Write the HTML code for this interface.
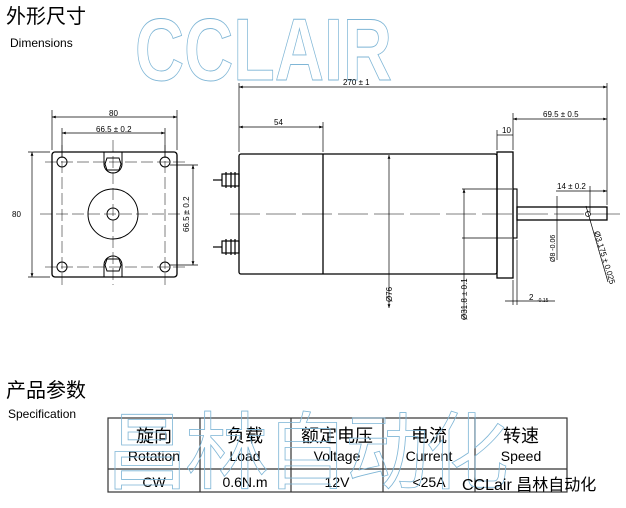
<!DOCTYPE html>
<html><head><meta charset="utf-8"><style>
body{margin:0;background:#fff;width:626px;height:508px;overflow:hidden;position:relative;font-family:"Liberation Sans","Noto Sans CJK SC",sans-serif}
</style></head><body>
<svg width="626" height="508" style="position:absolute;left:0;top:0" font-family="Liberation Sans, Noto Sans CJK SC, sans-serif">
<defs>
<marker id="a" viewBox="0 0 8 6" refX="8" refY="3" markerWidth="6" markerHeight="4" orient="auto-start-reverse"><path d="M0,0L8,3L0,6z" fill="#000"/></marker>
</defs>
<text x="135" y="80" font-size="88" font-weight="bold" fill="none" stroke="#7fb6d6" stroke-width="0.9" textLength="257" lengthAdjust="spacingAndGlyphs">CCLAIR</text>

<g stroke="#000" fill="none" stroke-width="0.7">
<rect x="52" y="152" width="125" height="125" rx="3" stroke-width="1.3"/>
<g stroke-dasharray="12,4" stroke-width="0.5">
<line x1="40" y1="214" x2="190" y2="214"/><line x1="113" y1="140" x2="113" y2="285"/>
<line x1="45" y1="162" x2="185" y2="162"/><line x1="45" y1="267" x2="185" y2="267"/>
<line x1="62" y1="145" x2="62" y2="285"/><line x1="165" y1="145" x2="165" y2="285"/>
</g>
<g stroke-width="1"><circle cx="62" cy="162" r="5"/><circle cx="165" cy="162" r="5"/><circle cx="62" cy="267" r="5"/><circle cx="165" cy="267" r="5"/>
<circle cx="113" cy="214" r="25"/><circle cx="113" cy="214" r="6"/>
<path d="M104,152v12a9,9 0 0 0 18,0v-12"/><path d="M107,158h12l2,6l-2,6h-12l-2,-6z"/>
<path d="M104,277v-12a9,9 0 0 1 18,0v12"/><path d="M107,259h12l2,6l-2,6h-12l-2,-6z"/>
</g>
<line x1="52" y1="110" x2="52" y2="150"/><line x1="177" y1="110" x2="177" y2="150"/>
<line x1="52" y1="117" x2="177" y2="117" marker-start="url(#a)" marker-end="url(#a)"/>
<line x1="62" y1="128" x2="62" y2="158"/><line x1="165" y1="128" x2="165" y2="158"/>
<line x1="62" y1="133" x2="165" y2="133" marker-start="url(#a)" marker-end="url(#a)"/>
<line x1="28" y1="152" x2="50" y2="152"/><line x1="28" y1="277" x2="50" y2="277"/>
<line x1="32" y1="152" x2="32" y2="277" marker-start="url(#a)" marker-end="url(#a)"/>
<line x1="170" y1="165" x2="198" y2="165"/><line x1="170" y1="265" x2="198" y2="265"/>
<line x1="193" y1="165" x2="193" y2="265" marker-start="url(#a)" marker-end="url(#a)"/>

<rect x="239" y="154" width="258" height="120" rx="2" stroke-width="1.3"/>
<line x1="323" y1="154" x2="323" y2="274" stroke-width="1.3"/>
<rect x="497" y="152" width="16" height="126" stroke-width="1.3"/>
<rect x="513" y="189" width="4" height="49" stroke-width="1.1"/>
<rect x="517" y="207" width="90" height="13" stroke-width="1.3"/>
<line x1="230" y1="214" x2="620" y2="214" stroke-dasharray="30,6" stroke-width="0.5"/>
<g stroke-width="1.2">
<rect x="222" y="174" width="17" height="12"/><rect x="222" y="241" width="17" height="12"/>
<line x1="226" y1="172" x2="226" y2="188"/><line x1="231" y1="172" x2="231" y2="188"/><line x1="235" y1="172" x2="235" y2="188"/>
<line x1="226" y1="239" x2="226" y2="255"/><line x1="231" y1="239" x2="231" y2="255"/><line x1="235" y1="239" x2="235" y2="255"/>
<line x1="213" y1="180" x2="222" y2="180"/><line x1="213" y1="247" x2="222" y2="247"/>
</g>
<line x1="239" y1="83" x2="239" y2="152"/><line x1="607" y1="83" x2="607" y2="205"/>
<line x1="239" y1="87" x2="607" y2="87" marker-start="url(#a)" marker-end="url(#a)"/>
<line x1="323" y1="122" x2="323" y2="152"/>
<line x1="239" y1="127" x2="323" y2="127" marker-start="url(#a)" marker-end="url(#a)"/>
<line x1="497" y1="130" x2="497" y2="150"/><line x1="513" y1="113" x2="513" y2="150"/>
<line x1="497" y1="135" x2="513" y2="135"/>
<line x1="513" y1="119" x2="607" y2="119" marker-start="url(#a)" marker-end="url(#a)"/>
<line x1="556" y1="191" x2="607" y2="191" marker-end="url(#a)"/>
<line x1="590" y1="186" x2="590" y2="212"/>
<circle cx="588" cy="214" r="2.5"/>
<line x1="586" y1="206" x2="608" y2="282"/>
<line x1="389" y1="155" x2="389" y2="308" marker-start="url(#a)" marker-end="url(#a)"/>
<line x1="462" y1="189" x2="512" y2="189"/><line x1="462" y1="238" x2="512" y2="238"/>
<line x1="464" y1="189" x2="464" y2="320" marker-start="url(#a)"/>
<line x1="557" y1="196" x2="557" y2="260"/>
<line x1="513" y1="280" x2="513" y2="305"/><line x1="517" y1="240" x2="517" y2="305"/>
<line x1="505" y1="301" x2="555" y2="301"/>
</g>
<g font-size="8" fill="#000">
<text x="109" y="116">80</text><text x="96" y="132">66.5 ± 0.2</text>
<text x="12" y="217">80</text>
<text transform="translate(189,232) rotate(-90)">66.5 ± 0.2</text>
<text x="343" y="85">270 ± 1</text><text x="274" y="125">54</text><text x="502" y="133">10</text>
<text x="543" y="117">69.5 ± 0.5</text><text x="557" y="189">14 ± 0.2</text>
<text transform="translate(392,302) rotate(-90)">Ø76</text>
<text transform="translate(467,320) rotate(-90)">Ø31.8 ± 0.1</text>
<text transform="translate(555,262) rotate(-90)" font-size="7">Ø8 -0.06</text>
<text transform="translate(594,232) rotate(73)">Ø3.175 ± 0.025</text>
<text x="529" y="300">2</text><text x="537" y="302" font-size="5">-0.15</text>
</g>
<g stroke="#333" stroke-width="1.2" fill="none">
<rect x="108" y="418" width="459" height="74"/>
<line x1="108" y1="469" x2="567" y2="469"/>
<line x1="200" y1="418" x2="200" y2="492"/><line x1="291" y1="418" x2="291" y2="492"/>
<line x1="383" y1="418" x2="383" y2="492"/><line x1="475" y1="418" x2="475" y2="492"/>
</g>
<g font-size="18" text-anchor="middle" fill="#000">
<text x="154" y="442">旋向</text><text x="245" y="442">负载</text><text x="337" y="442">额定电压</text><text x="429" y="442">电流</text><text x="521" y="442">转速</text>
</g>
<g font-size="14" text-anchor="middle" fill="#000">
<text x="154" y="461">Rotation</text><text x="245" y="461">Load</text><text x="337" y="461">Voltage</text><text x="429" y="461">Current</text><text x="521" y="461">Speed</text>
<text x="154" y="487">CW</text><text x="245" y="487">0.6N.m</text><text x="337" y="487">12V</text><text x="429" y="487">&lt;25A</text>
</g>
<text x="105" y="482" font-size="84" fill="none" stroke="#7fb6d6" stroke-width="0.8" letter-spacing="-4">昌林自动化</text>
<text x="462" y="490" font-size="16" fill="#000">CCLair 昌林自动化</text>
<text x="6" y="23" font-size="20" fill="#000">外形尺寸</text>
<text x="10" y="47" font-size="12" fill="#000">Dimensions</text>
<text x="6" y="397" font-size="20" fill="#000">产品参数</text>
<text x="8" y="418" font-size="12" fill="#000">Specification</text>
</svg>
</body></html>
